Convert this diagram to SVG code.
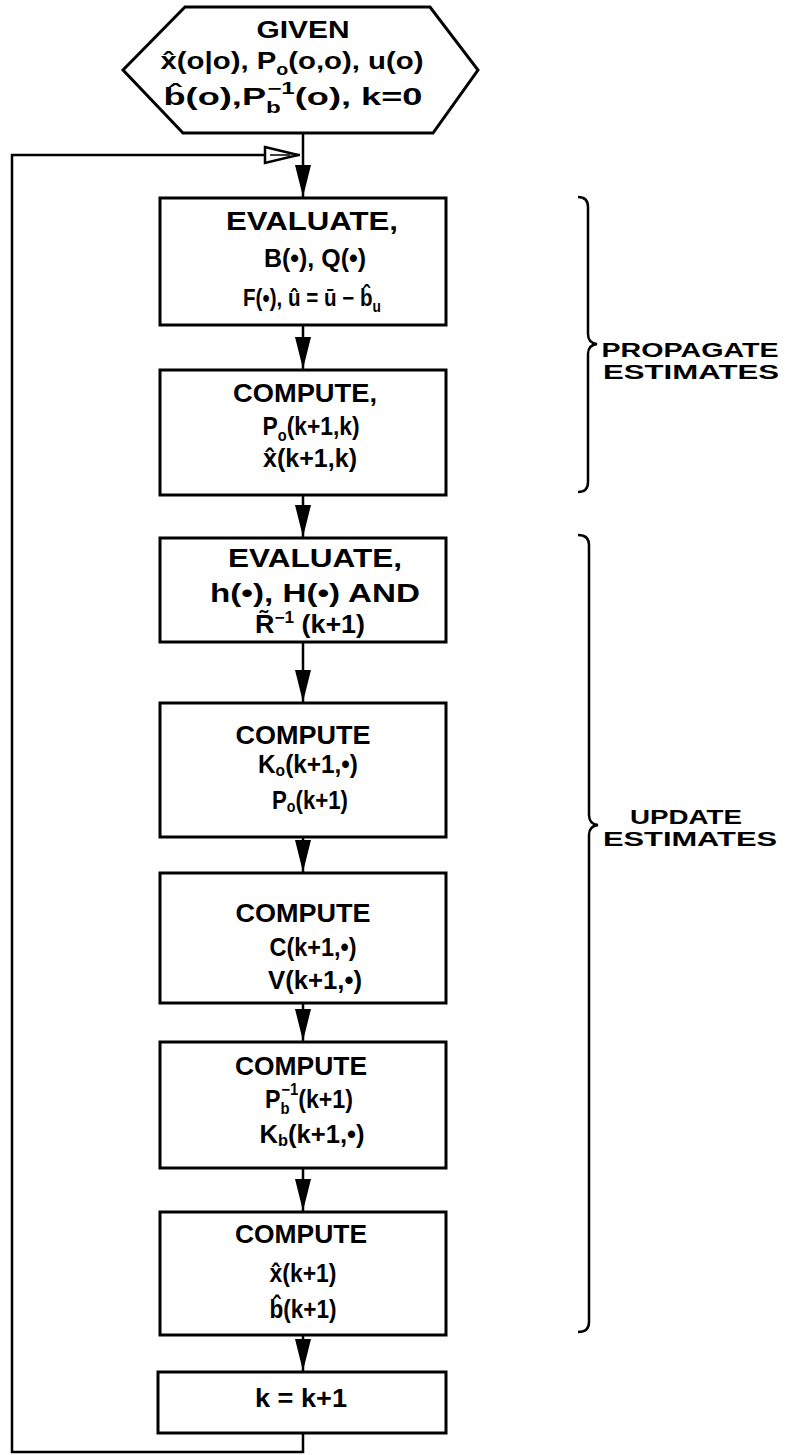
<svg xmlns="http://www.w3.org/2000/svg" width="785" height="1455" viewBox="0 0 785 1455">
<style>
.bg{fill:#fff}
.box{fill:#fff;stroke:#000;stroke-width:3}
.ln{fill:none;stroke:#000;stroke-width:2.5}
.br{fill:none;stroke:#000;stroke-width:2.5}
.t{font-family:"Liberation Sans",Arial,sans-serif;font-weight:bold;font-size:25px;text-anchor:middle;fill:#000}
.h{font-size:24px}
.lb{font-size:21px}
.s{font-size:16px}
</style>
<defs>
<marker id="ah" viewBox="0 0 32 16" refX="32" refY="8" markerWidth="32" markerHeight="16" markerUnits="userSpaceOnUse" orient="auto">
<path d="M0,0 L32,8 L0,16 z" fill="#000"/>
</marker>
</defs>
<rect class="bg" x="0" y="0" width="785" height="1455"/>

<g id="connectors">
<line class="ln" x1="303" y1="133" x2="303" y2="197" marker-end="url(#ah)"/>
<line class="ln" x1="303" y1="325" x2="303" y2="369" marker-end="url(#ah)"/>
<line class="ln" x1="303" y1="495" x2="303" y2="537" marker-end="url(#ah)"/>
<line class="ln" x1="303" y1="642" x2="303" y2="702" marker-end="url(#ah)"/>
<line class="ln" x1="303" y1="837" x2="303" y2="872" marker-end="url(#ah)"/>
<line class="ln" x1="303" y1="1003" x2="303" y2="1041" marker-end="url(#ah)"/>
<line class="ln" x1="303" y1="1168" x2="303" y2="1211" marker-end="url(#ah)"/>
<line class="ln" x1="303" y1="1335" x2="303" y2="1371" marker-end="url(#ah)"/>
<polyline class="ln" points="303,1433 303,1452 12,1452 12,155 300,155"/>
<polygon points="265,147 298,155 265,163" fill="#fff" stroke="#000" stroke-width="2.5" stroke-linejoin="miter"/>
<line x1="270" y1="155" x2="290" y2="155" stroke="#000" stroke-width="1.5"/>
</g>

<g id="start">
<polygon class="box" points="185,7 430,7 478,70 433,133 183,133 123,70"/>
<text class="t h" x="303" y="38" textLength="93" lengthAdjust="spacingAndGlyphs">GIVEN</text>
<text class="t h" x="292" y="69" textLength="263" lengthAdjust="spacingAndGlyphs">x&#x302;(o|o), P<tspan class="s" dy="6">o</tspan><tspan dy="-6">(o,o), u(o)</tspan></text>
<text class="t h" x="293" y="105" textLength="259" lengthAdjust="spacingAndGlyphs">b&#x302;(o),P<tspan class="s" dy="8">b</tspan><tspan class="s" dx="-9" dy="-19">−1</tspan><tspan dy="11">(o), k=0</tspan></text>
</g>

<g id="eval1">
<rect class="box" x="160" y="198" width="286" height="127"/>
<text class="t" x="312" y="230" textLength="172" lengthAdjust="spacingAndGlyphs">EVALUATE,</text>
<text class="t" x="315" y="267" textLength="102" lengthAdjust="spacingAndGlyphs">B(•), Q(•)</text>
<text class="t" x="243" y="306" style="text-anchor:start;font-size:24px" textLength="138" lengthAdjust="spacingAndGlyphs">F(•), &#xFB; = &#x16B; − b&#x302;<tspan class="s" dy="6">u</tspan></text>
</g>

<g id="compute1">
<rect class="box" x="160" y="370" width="286" height="125"/>
<text class="t" x="305" y="402" textLength="144" lengthAdjust="spacingAndGlyphs">COMPUTE,</text>
<text class="t" x="311" y="435" textLength="97" lengthAdjust="spacingAndGlyphs">P<tspan class="s" dy="6">o</tspan><tspan dy="-6">(k+1,k)</tspan></text>
<text class="t" x="310" y="467" textLength="94" lengthAdjust="spacingAndGlyphs">x&#x302;(k+1,k)</text>
</g>

<g id="eval2">
<rect class="box" x="160" y="538" width="286" height="104"/>
<text class="t" x="315" y="567" textLength="174" lengthAdjust="spacingAndGlyphs">EVALUATE,</text>
<text class="t" x="315" y="602" textLength="210" lengthAdjust="spacingAndGlyphs">h(•), H(•) AND</text>
<text class="t" x="310" y="633" textLength="110" lengthAdjust="spacingAndGlyphs">R&#x303;<tspan class="s" dy="-10">−1</tspan><tspan dy="10"> (k+1)</tspan></text>
</g>

<g id="compute2">
<rect class="box" x="160" y="703" width="286" height="134"/>
<text class="t" x="303" y="744" textLength="135" lengthAdjust="spacingAndGlyphs">COMPUTE</text>
<text class="t" x="308" y="773" textLength="100" lengthAdjust="spacingAndGlyphs">K<tspan class="s" dy="3">o</tspan><tspan dy="-3">(k+1,•)</tspan></text>
<text class="t" x="310" y="809" textLength="76" lengthAdjust="spacingAndGlyphs">P<tspan class="s" dy="3">o</tspan><tspan dy="-3">(k+1)</tspan></text>
</g>

<g id="compute3">
<rect class="box" x="160" y="873" width="286" height="130"/>
<text class="t" x="303" y="922" textLength="135" lengthAdjust="spacingAndGlyphs">COMPUTE</text>
<text class="t" x="313" y="956" textLength="87" lengthAdjust="spacingAndGlyphs">C(k+1,•)</text>
<text class="t" x="315" y="989" textLength="94" lengthAdjust="spacingAndGlyphs">V(k+1,•)</text>
</g>

<g id="compute4">
<rect class="box" x="160" y="1042" width="286" height="126"/>
<text class="t" x="301" y="1075" textLength="132" lengthAdjust="spacingAndGlyphs">COMPUTE</text>
<text class="t" x="309" y="1108" textLength="88" lengthAdjust="spacingAndGlyphs">P<tspan class="s" dy="6">b</tspan><tspan class="s" dx="-9" dy="-19">−1</tspan><tspan dy="13">(k+1)</tspan></text>
<text class="t" x="312" y="1143" textLength="105" lengthAdjust="spacingAndGlyphs">K<tspan class="s" dy="3">b</tspan><tspan dy="-3">(k+1,•)</tspan></text>
</g>

<g id="compute5">
<rect class="box" x="160" y="1212" width="286" height="123"/>
<text class="t" x="301" y="1243" textLength="132" lengthAdjust="spacingAndGlyphs">COMPUTE</text>
<text class="t" x="303" y="1282" textLength="67" lengthAdjust="spacingAndGlyphs">x&#x302;(k+1)</text>
<text class="t" x="303" y="1318" textLength="67" lengthAdjust="spacingAndGlyphs">b&#x302;(k+1)</text>
</g>

<g id="increment">
<rect class="box" x="158" y="1372" width="288" height="61"/>
<text class="t" x="301" y="1407" textLength="92" lengthAdjust="spacingAndGlyphs">k = k+1</text>
</g>

<g id="propagate-label">
<path class="br" d="M578,197 Q588,197 588,207 L588,334 Q588,343 597,344 Q588,345 588,354 L588,482 Q588,492 578,492"/>
<text class="t lb" x="690" y="357" textLength="177" lengthAdjust="spacingAndGlyphs">PROPAGATE</text>
<text class="t lb" x="691" y="379" textLength="176" lengthAdjust="spacingAndGlyphs">ESTIMATES</text>
</g>

<g id="update-label">
<path class="br" d="M578,535 Q589,535 589,545 L589,815 Q589,824 598,825 Q589,826 589,835 L589,1322 Q589,1332 578,1332"/>
<text class="t lb" x="686" y="824" textLength="112" lengthAdjust="spacingAndGlyphs">UPDATE</text>
<text class="t lb" x="690" y="846" textLength="174" lengthAdjust="spacingAndGlyphs">ESTIMATES</text>
</g>
</svg>
